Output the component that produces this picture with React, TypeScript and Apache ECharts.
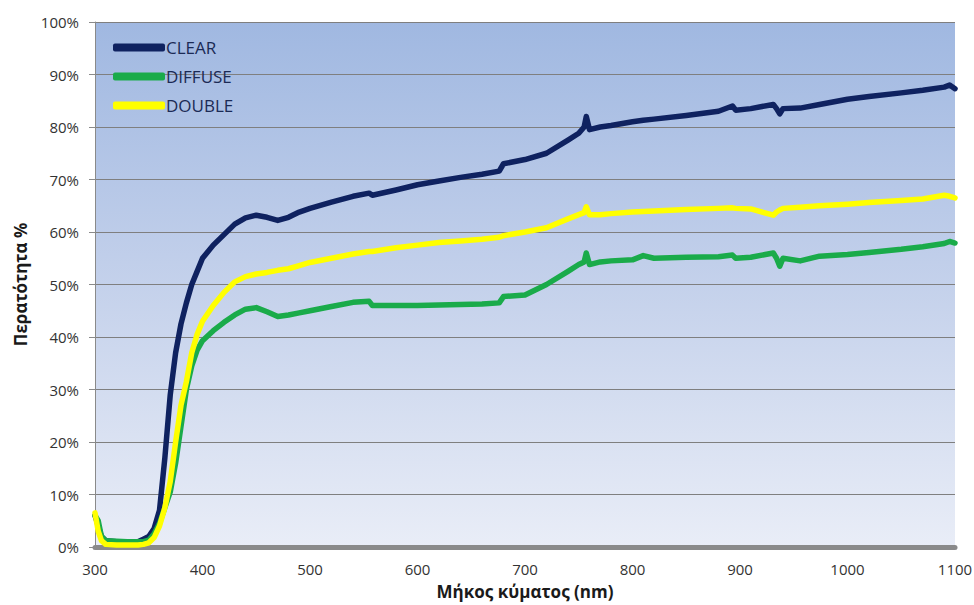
import React, { useEffect, useRef } from "react";
import * as echarts from "echarts";

const wavelengths = [
  300, 303, 306, 310, 320, 330, 340, 345, 350, 355, 360, 365, 370, 375, 380, 385, 390, 395, 400,
  410, 420, 430, 440, 450, 460, 470, 480, 490, 500, 520, 540, 555, 558, 580, 600, 620, 640, 660,
  676, 680, 700, 720, 740, 750, 755, 757, 760, 770, 780, 800, 810, 820, 850, 880, 893, 896, 910,
  931, 934, 937, 940, 956, 974, 1000, 1020, 1050, 1070, 1090, 1095, 1100,
];

const clearValues = [
  6, 4, 2, 1.2, 1, 0.9, 1, 1.5, 2, 3.5, 7, 17, 29, 37, 42.5, 46.5, 50, 52.5, 55,
  57.5, 59.5, 61.5, 62.7, 63.2, 62.8, 62.2, 62.8, 63.8, 64.5, 65.7, 66.8, 67.4, 67.0, 68, 69, 69.7, 70.4, 71,
  71.6, 73, 73.8, 75, 77.5, 78.8, 80, 82, 79.5, 80, 80.3, 81, 81.3, 81.5, 82.2, 83, 84, 83.2, 83.5,
  84.3, 83.5, 82.5, 83.5, 83.6, 84.3, 85.3, 85.8, 86.5, 87, 87.6, 88, 87.3,
];

const diffuseValues = [
  6, 5, 2, 1.2, 1.1, 1, 1, 1, 1.3, 2.5, 4.5, 7.5, 10.5, 16, 23, 30, 34.5, 37.5, 39.3,
  41.2, 42.8, 44.2, 45.3, 45.6, 44.8, 43.9, 44.2, 44.6, 45, 45.8, 46.6, 46.8, 46, 46, 46, 46.1, 46.2, 46.3,
  46.5, 47.7, 48, 50, 52.5, 53.8, 54.3, 56, 53.8, 54.3, 54.5, 54.7, 55.5, 55, 55.2, 55.3, 55.6, 55, 55.2,
  56, 55, 53.5, 55, 54.5, 55.4, 55.7, 56.1, 56.7, 57.2, 57.8, 58.2, 57.9,
];

const doubleValues = [
  6.5, 3, 1.2, 0.5, 0.4, 0.4, 0.4, 0.5, 0.8, 1.8, 4, 7.5, 12.5, 20, 27, 31.5, 37, 40.5, 43,
  46, 48.5, 50.5, 51.5, 52, 52.3, 52.7, 53, 53.6, 54.2, 55, 55.8, 56.3, 56.3, 57, 57.5, 58, 58.3, 58.6,
  59, 59.3, 60, 60.8, 62.5, 63.3, 63.7, 64.8, 63.3, 63.3, 63.5, 63.8, 63.9, 64, 64.3, 64.5, 64.6, 64.5, 64.4,
  63.2, 63.8, 64.2, 64.5, 64.7, 65, 65.3, 65.6, 66, 66.3, 67, 66.8, 66.5,
];

const seriesNames = ["CLEAR", "DIFFUSE", "DOUBLE"];
const seriesColors = ["#0f2260", "#1aab4a", "#ffff00"];
const yTicks = [0, 10, 20, 30, 40, 50, 60, 70, 80, 90, 100];

const FONT = "'Open Sans', 'Noto Sans', sans-serif";

export default function App() {
  const ref = useRef<HTMLDivElement>(null);

  useEffect(() => {
    if (!ref.current) return;
    const chart = echarts.init(ref.current, null, { renderer: "svg" });
    const all = [clearValues, diffuseValues, doubleValues];
    chart.setOption({
      animation: false,
      backgroundColor: "#ffffff",
      grid: {
        left: 95,
        right: 19,
        top: 22,
        bottom: 58,
        outerBoundsMode: "none",
        containLabel: false,
        show: true,
        borderWidth: 0,
        backgroundColor: new echarts.graphic.LinearGradient(0, 0, 0, 1, [
          { offset: 0, color: "#a0b8e1" },
          { offset: 0.5, color: "#c4d1eb" },
          { offset: 1, color: "#e9edf7" },
        ]),
      },
      legend: {
        left: 108,
        top: 34,
        orient: "vertical",
        itemGap: 12,
        itemWidth: 52,
        itemHeight: 8,
        icon: "roundRect",
        data: seriesNames,
        textStyle: { color: "#1b2a55", fontSize: 17, fontFamily: FONT, padding: [0, 0, 0, -4] },
      },
      xAxis: {
        type: "value",
        min: 300,
        max: 1100,
        interval: 100,
        name: "Μήκος κύματος (nm)",
        nameLocation: "middle",
        nameGap: 36,
        nameTextStyle: { fontSize: 17, fontWeight: "bold", color: "#1a1a1a", fontFamily: FONT },
        axisLine: { show: true, lineStyle: { color: "#8a8a8a", width: 5 } },
        axisTick: { show: false },
        axisLabel: {
          fontSize: 15,
          color: "#333",
          fontFamily: FONT,
          margin: 14,
          formatter: (v: number) => String(v),
        },
        splitLine: { show: false },
      },
      yAxis: {
        type: "value",
        min: yTicks[0],
        max: yTicks[yTicks.length - 1],
        interval: 10,
        name: "Περατότητα %",
        nameLocation: "middle",
        nameGap: 66,
        nameRotate: 90,
        nameTextStyle: { fontSize: 17, fontWeight: "bold", color: "#1a1a1a", fontFamily: FONT },
        axisLine: { show: true, lineStyle: { color: "#8a8a8a", width: 1 } },
        axisTick: { show: true, length: 6, lineStyle: { color: "#8a8a8a" } },
        axisLabel: { fontSize: 15, color: "#333", fontFamily: FONT, formatter: "{value}%", margin: 16 },
        splitLine: { show: true, lineStyle: { color: "#7f7f7f", width: 1 } },
      },
      series: seriesNames.map((name, i) => ({
        name,
        type: "line",
        showSymbol: false,
        symbol: "none",
        color: seriesColors[i],
        lineStyle: { color: seriesColors[i], width: 5.5, join: "round", cap: "round" },
        data: wavelengths.map((w, j) => [w, all[i][j]]),
        z: 2 + i,
      })),
    });
    return () => chart.dispose();
  }, []);

  return (
    <div
      ref={ref}
      style={{ position: "absolute", left: 0, top: 0, width: 974, height: 605 }}
    />
  );
}
